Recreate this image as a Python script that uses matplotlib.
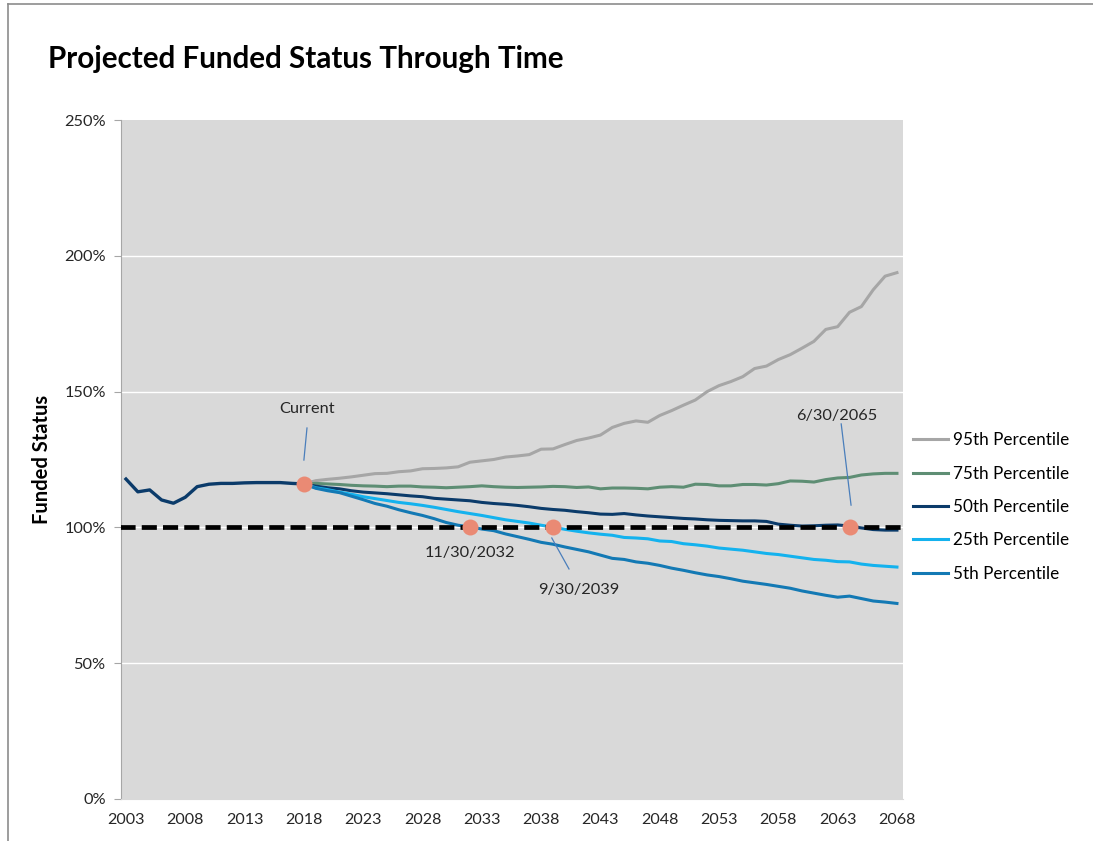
import matplotlib
matplotlib.use("Agg")
import matplotlib.pyplot as plt
from matplotlib.lines import Line2D

plt.rcParams['font.family'] = ['Lato', 'DejaVu Sans']

# history of funded status (%)
hist_years = list(range(2003, 2019))
hist_vals = [117.8, 113.1, 113.8, 110.1, 108.9, 111.1, 115.0, 115.9, 116.2, 116.2,
             116.4, 116.5, 116.5, 116.5, 116.2, 116.0]

# projections (%), 2018 - 2068
proj_years = list(range(2018, 2069))
p95 = [116.0, 117.2, 117.7, 118.1, 118.6, 119.2, 119.8, 119.9, 120.5, 120.8,
       121.6, 121.7, 121.9, 122.3, 124.0, 124.5, 125.0, 125.9, 126.3, 126.8,
       128.8, 128.9, 130.5, 132.0, 132.9, 134.0, 136.8, 138.3, 139.2, 138.7,
       141.2, 143.0, 145.0, 146.9, 150.0, 152.2, 153.7, 155.5, 158.5, 159.4,
       161.8, 163.6, 166.0, 168.5, 172.9, 173.9, 179.2, 181.3, 187.5, 192.5, 193.8]
p75 = [116.0, 116.2, 116.0, 115.8, 115.5, 115.3, 115.2, 115.0, 115.2, 115.2,
       114.9, 114.8, 114.6, 114.8, 115.0, 115.3, 115.0, 114.8, 114.7, 114.8,
       114.9, 115.1, 115.0, 114.7, 114.9, 114.2, 114.5, 114.5, 114.4, 114.2,
       114.8, 115.0, 114.8, 115.9, 115.8, 115.3, 115.3, 115.8, 115.8, 115.6,
       116.1, 117.1, 117.0, 116.7, 117.6, 118.2, 118.4, 119.3, 119.7, 119.9, 119.9]
p50 = [116.0, 115.2, 114.6, 114.2, 113.5, 113.0, 112.7, 112.4, 112.0, 111.6,
       111.3, 110.7, 110.4, 110.1, 109.8, 109.2, 108.8, 108.5, 108.1, 107.6,
       107.0, 106.6, 106.3, 105.8, 105.4, 104.9, 104.8, 105.1, 104.6, 104.2,
       103.9, 103.6, 103.3, 103.1, 102.8, 102.6, 102.5, 102.4, 102.4, 102.2,
       101.2, 100.8, 100.5, 100.6, 100.8, 100.9, 100.5, 99.8, 99.2, 99.0, 99.0]
p25 = [116.0, 114.6, 113.9, 113.0, 112.2, 111.3, 110.6, 109.9, 109.2, 108.7,
       108.1, 107.4, 106.6, 105.8, 105.1, 104.4, 103.6, 102.8, 102.2, 101.6,
       100.8, 100.1, 99.3, 98.6, 98.0, 97.5, 97.1, 96.3, 96.1, 95.8,
       95.0, 94.8, 94.0, 93.6, 93.1, 92.4, 92.0, 91.6, 91.0, 90.4,
       90.0, 89.4, 88.8, 88.2, 87.9, 87.4, 87.3, 86.5, 86.0, 85.7, 85.4]
p5 = [116.0, 114.4, 113.5, 112.8, 111.5, 110.2, 108.8, 107.8, 106.5, 105.4,
      104.4, 103.2, 101.8, 100.8, 100.2, 99.4, 98.8, 97.6, 96.6, 95.6,
      94.5, 93.8, 92.8, 91.9, 91.0, 89.8, 88.6, 88.2, 87.3, 86.8,
      86.0, 85.0, 84.2, 83.3, 82.5, 81.9, 81.1, 80.2, 79.6, 79.0,
      78.3, 77.6, 76.6, 75.8, 75.0, 74.3, 74.7, 73.8, 72.9, 72.5, 72.0]

series_labels = ["95th Percentile", "75th Percentile", "50th Percentile",
                 "25th Percentile", "5th Percentile"]
series_colors = ["#A6A6A6", "#5E8E74", "#0B3B6A", "#14B2EE", "#1379B4"]

# highlighted points and their labels
mark_x = [2018, 2032, 2039, 2064]
mark_y = [116, 100, 100, 100]
notes = ["Current", "11/30/2032", "9/30/2039", "6/30/2065"]
note_pos = [(2018.26, 143.6), (2032.0, 90.6), (2041.2, 77.0), (2062.9, 141.0)]
leaders = [((2018.26, 136.6), (2018.0, 124.8)), None,
           ((2038.9, 96.1), (2040.35, 84.7)),
           ((2063.3, 138.1), (2064.13, 108.2))]

fig = plt.figure(figsize=(10.93, 8.41), dpi=100)
ax = fig.add_axes([121 / 1093, 1 - 799 / 841, 782 / 1093, 679 / 841])
ax.set_facecolor("#D9D9D9")

for v in [50, 100, 150, 200]:
    ax.axhline(v, color="white", lw=1.0, zorder=1)

lines = []
for vals, lab, col in zip([p95, p75, p50, p25, p5], series_labels, series_colors):
    ln, = ax.plot(proj_years, vals, color=col, lw=2.2, label=lab, zorder=3)
    lines.append(ln)
ax.plot(hist_years, hist_vals, color=series_colors[2], lw=2.4, zorder=4)

ax.plot([2002.5, 2068.6], [100, 100], color="black", lw=3.4,
        dashes=(3.2, 1.3), zorder=5)

ax.plot(mark_x, mark_y, "o", color="#EA8A74", ms=11.5, mec="none", zorder=6)

for txt, (tx, ty), ld in zip(notes, note_pos, leaders):
    ax.text(tx, ty, txt, ha="center", va="center", fontsize=11.8, color="#262626", zorder=7)
    if ld is not None:
        ax.plot([ld[0][0], ld[1][0]], [ld[0][1], ld[1][1]], color="#4A7EBB", lw=0.9, zorder=7)

ax.set_xlim(2002.58, 2068.51)
ax.set_ylim(0, 250)
ax.set_xticks(range(2003, 2069, 5))
ax.set_yticks([0, 50, 100, 150, 200, 250])
ax.set_yticklabels(["0%", "50%", "100%", "150%", "200%", "250%"])
ax.tick_params(axis="y", length=5, color="#A6A6A6", labelsize=11.8, labelcolor="#262626", pad=6)
ax.tick_params(axis="x", length=0, labelsize=11.6, labelcolor="#262626", pad=10)

for s in ["top", "right"]:
    ax.spines[s].set_visible(False)
ax.spines["left"].set_color("#A6A6A6")
ax.spines["bottom"].set_color("#D9D9D9")

ax.set_ylabel("Funded Status", fontsize=14.5, fontweight="bold", labelpad=9)

fig.text(48 / 1093, 1 - 59 / 841, "Projected Funded Status Through Time",
         fontsize=21.3, fontweight="bold", ha="left", va="center")

ax.legend(handles=lines, loc="center left", bbox_to_anchor=(913 / 1093, 1 - 507 / 841),
          bbox_transform=fig.transFigure, frameon=False, fontsize=12.3,
          handlelength=2.05, handletextpad=0.3, labelspacing=1.02,
          borderpad=0, borderaxespad=0)

# frame edges visible at top and left of the original image
fig.add_artist(Line2D([8 / 1093, 8 / 1093], [0, 1 - 4 / 841], color="#8C8C8C", lw=1.2))
fig.add_artist(Line2D([8 / 1093, 1], [1 - 4 / 841, 1 - 4 / 841], color="#8C8C8C", lw=1.2))

fig.savefig("out.png", dpi=100)
